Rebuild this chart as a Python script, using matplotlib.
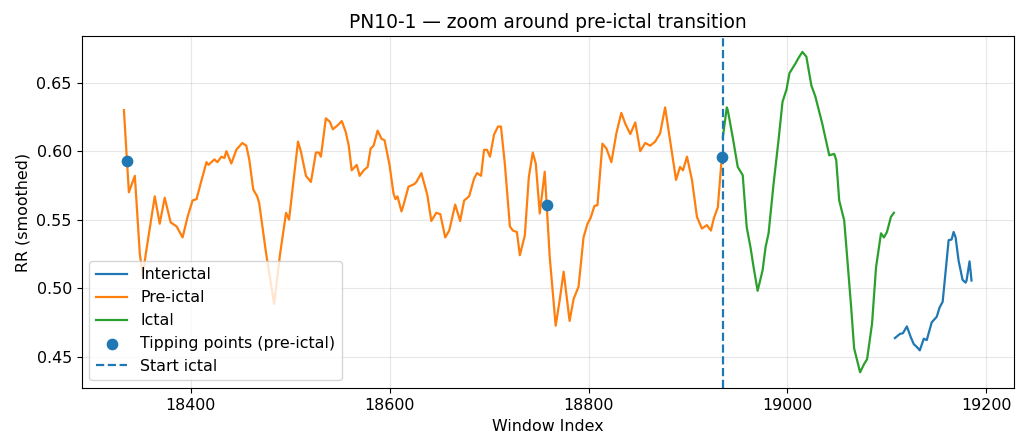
#! /usr/bin/env python

import numpy as np
import matplotlib
matplotlib.use("Agg")
import matplotlib.pyplot as plt


#=====================================================================
#     Data (window index, RR)
#
pre_x = [18333, 18338, 18344, 18349, 18352, 18355, 18364, 18369, 18374, 18380,
         18386, 18392, 18397, 18402, 18406, 18410, 18416, 18418, 18424, 18427,
         18431, 18434, 18436, 18441, 18446, 18452, 18456, 18459, 18463, 18467,
         18469, 18476, 18484, 18490, 18496, 18499, 18508, 18511, 18516, 18521,
         18526, 18529, 18531, 18536, 18540, 18543, 18548, 18552, 18556, 18559,
         18562, 18567, 18570, 18574, 18578, 18581, 18584, 18588, 18592, 18595,
         18600, 18604, 18606, 18608, 18612, 18614, 18619, 18625, 18627, 18632,
         18638, 18642, 18647, 18651, 18656, 18660, 18666, 18671, 18675, 18680,
         18685, 18688, 18692, 18695, 18698, 18701, 18705, 18709, 18712, 18716,
         18721, 18724, 18728, 18731, 18736, 18740, 18744, 18747, 18751, 18756,
         18761, 18767, 18771, 18775, 18781, 18785, 18790, 18795, 18799, 18802,
         18806, 18809, 18814, 18818, 18823, 18828, 18833, 18837, 18842, 18847,
         18852, 18857, 18862, 18867, 18872, 18877, 18882, 18888, 18892, 18895,
         18899, 18904, 18909, 18914, 18919, 18923, 18926, 18930, 18934]
pre_rr = [0.630, 0.570, 0.582, 0.525, 0.509, 0.525, 0.567, 0.547, 0.566, 0.548,
          0.545, 0.537, 0.552, 0.564, 0.565, 0.576, 0.592, 0.590, 0.594, 0.592,
          0.596, 0.595, 0.600, 0.591, 0.601, 0.606, 0.604, 0.594, 0.572, 0.567,
          0.562, 0.525, 0.4885, 0.525, 0.555, 0.550, 0.607, 0.5995, 0.582, 0.5775,
          0.599, 0.599, 0.596, 0.624, 0.6215, 0.616, 0.619, 0.622, 0.614, 0.604,
          0.586, 0.590, 0.582, 0.586, 0.5885, 0.602, 0.604, 0.615, 0.609, 0.608,
          0.590, 0.569, 0.565, 0.567, 0.556, 0.5605, 0.574, 0.576, 0.5775, 0.584,
          0.568, 0.549, 0.555, 0.554, 0.537, 0.542, 0.561, 0.549, 0.564, 0.567,
          0.580, 0.584, 0.582, 0.601, 0.601, 0.596, 0.612, 0.618, 0.618, 0.590,
          0.545, 0.542, 0.541, 0.524, 0.5385, 0.581, 0.599, 0.591, 0.5545, 0.585,
          0.523, 0.4725, 0.491, 0.512, 0.476, 0.492, 0.501, 0.537, 0.547, 0.551,
          0.560, 0.5605, 0.6055, 0.602, 0.592, 0.613, 0.628, 0.620, 0.6125, 0.621,
          0.600, 0.606, 0.604, 0.607, 0.613, 0.632, 0.608, 0.579, 0.5885, 0.586,
          0.596, 0.579, 0.552, 0.5435, 0.546, 0.542, 0.551, 0.559, 0.596]

ict_x = [18935, 18939, 18940, 18945, 18950, 18955, 18959, 18963, 18966, 18970,
         18975, 18978, 18981, 18986, 18991, 18995, 18999, 19002, 19008, 19011,
         19015, 19019, 19024, 19028, 19035, 19042, 19047, 19049, 19052, 19057,
         19060, 19064, 19067, 19073, 19077, 19080, 19085, 19089, 19094, 19097,
         19100, 19104, 19107]
ict_rr = [0.610, 0.632, 0.630, 0.610, 0.5885, 0.5825, 0.5446, 0.529, 0.515, 0.498,
          0.513, 0.530, 0.540, 0.576, 0.608, 0.636, 0.645, 0.657, 0.664, 0.668,
          0.6725, 0.669, 0.648, 0.640, 0.620, 0.597, 0.598, 0.5935, 0.564, 0.5495,
          0.5226, 0.486, 0.456, 0.4385, 0.4445, 0.448, 0.474, 0.515, 0.540, 0.537,
          0.541, 0.552, 0.555]

inter_x = [19108, 19113, 19116, 19120, 19124, 19127, 19130, 19133, 19137, 19140,
           19145, 19150, 19153, 19156, 19160, 19162, 19165, 19167, 19169, 19172,
           19176, 19179, 19180, 19183, 19185]
inter_rr = [0.4635, 0.4665, 0.467, 0.472, 0.464, 0.459, 0.457, 0.4545, 0.463, 0.462,
            0.475, 0.479, 0.486, 0.490, 0.520, 0.535, 0.5355, 0.541, 0.537, 0.520,
            0.506, 0.504, 0.5055, 0.5195, 0.5055]

tip_x  = [18336, 18758, 18934]
tip_rr = [0.593, 0.561, 0.5955]

ictal_start = 18935
#=====================================================================


#=====================================================================
#     Plotting
#
plt.rcParams['font.size'] = 11.4
lw = 1.6

fig, ax = plt.subplots(figsize=(10.19, 4.38), dpi=100)
fig.subplots_adjust(left=0.080, right=0.995, top=0.918, bottom=0.1135)

ax.plot(inter_x, inter_rr, color='C0', lw=lw, label='Interictal')
ax.plot(pre_x, pre_rr, color='C1', lw=lw, label='Pre-ictal')
ax.plot(ict_x, ict_rr, color='C2', lw=lw, label='Ictal')
ax.scatter(tip_x, tip_rr, s=55, color='C0', zorder=3, label='Tipping points (pre-ictal)')
ax.axvline(ictal_start, color='C0', linestyle='--', lw=lw, label='Start ictal')

ax.set_title('PN10-1 \u2014 zoom around pre-ictal transition', fontsize=13.4)
ax.set_xlabel('Window Index')
ax.set_ylabel('RR (smoothed)')
ax.grid(True, alpha=0.3)
ax.legend(loc='lower left')

plt.savefig('out.png', dpi=100)
